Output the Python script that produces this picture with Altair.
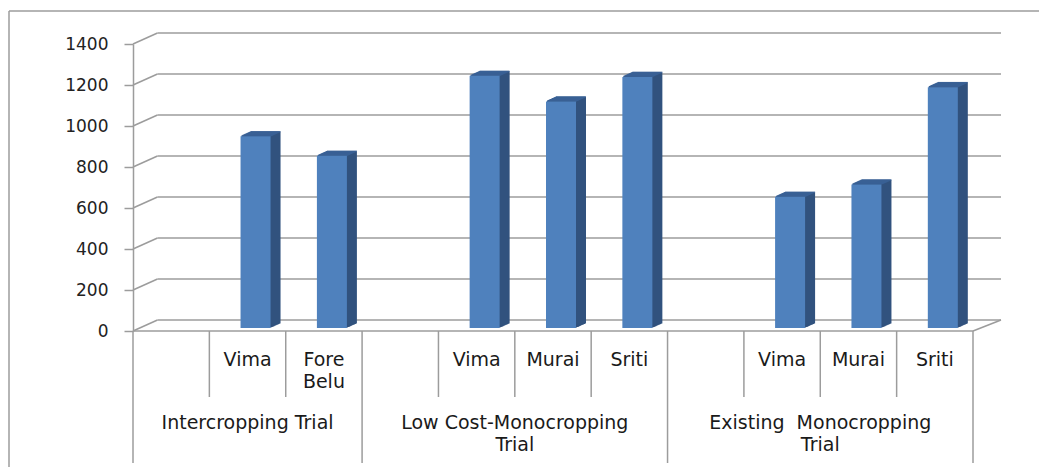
import altair as alt
import pandas as pd

# ---- data ----
groups = ["Intercropping Trial", "Low Cost-Monocropping\nTrial", "Existing\u00a0 Monocropping\nTrial"]
cultivars = [["Vima", "Fore\nBelu"], ["Vima", "Murai", "Sriti"], ["Vima", "Murai", "Sriti"]]
yields = [[935, 840], [1230, 1105, 1225], [640, 700, 1175]]
y_ticks = [0, 200, 400, 600, 800, 1000, 1200, 1400]

# ---- styles ----
GRID = "#9c9c9c"
FRONT = "#4f81bd"
SIDE = "#31527e"
TOP = "#3a6195"
FONT = "DejaVu Sans"
W, H = 840, 287
PAD = {"left": 133, "top": 44, "right": 66, "bottom": 136}
DX_L, DX_R, DY = 24.5, 28, -11   # back-wall depth offsets (pixels)
BAR_DX, BAR_DY, DEPTH = 8, -3, 10

# ---- build tables from the lists ----
bar_rows, grp_rows, grp_edges = [], [], []
slot = 0
for g, cs, vs in zip(groups, cultivars, yields):
    start = slot
    grp_edges.append(start)
    slot += 1  # empty leading slot in each group
    for c, v in zip(cs, vs):
        bar_rows.append({"slot": slot + 0.5, "edge": slot, "cultivar": c, "value": v})
        slot += 1
    grp_rows.append({"center": (start + slot) / 2, "group": g})
n_slots = slot
grp_edges.append(n_slots)

bars = pd.DataFrame(bar_rows)
grps = pd.DataFrame(grp_rows)
edges = pd.DataFrame({"edge": grp_edges})
ticks = pd.DataFrame({"v": y_ticks})

xs = alt.Scale(domain=[0, n_slots], nice=False, zero=False, padding=0)
ys = alt.Scale(domain=[0, 1400], nice=False, padding=0)
Y_AXIS = alt.Axis(values=y_ticks, grid=False, title=None, format="d")


def X(field=None, datum=None):
    if datum is not None:
        return alt.X(datum=datum, scale=xs, axis=None)
    return alt.X(field, type="quantitative", scale=xs, axis=None)


def Y(field=None, datum=None):
    if datum is not None:
        return alt.Y(datum=datum, scale=ys, axis=Y_AXIS)
    return alt.Y(field, type="quantitative", scale=ys, axis=Y_AXIS)


# back wall gridlines
back = alt.Chart(ticks).mark_rule(color=GRID, strokeWidth=1.5, xOffset=DX_L, x2Offset=DX_R,
                                  yOffset=DY).encode(
    x=X(datum=0), x2=alt.X2(datum=n_slots), y=Y("v"))

# left wall diagonals
diag = alt.Chart(ticks).mark_rule(color=GRID, strokeWidth=1.5, x2Offset=DX_L, y2Offset=DY).encode(
    x=X(datum=0), x2=alt.X2(datum=0), y=Y("v"), y2="v:Q")

# front floor edge and right floor diagonal
floor = alt.Chart(ticks.head(1)).mark_rule(color=GRID, strokeWidth=1.5).encode(
    x=X(datum=0), x2=alt.X2(datum=n_slots), y=Y(datum=0))
floor_r = alt.Chart(ticks.head(1)).mark_rule(color=GRID, strokeWidth=1.5, x2Offset=DX_R,
                                             y2Offset=DY).encode(
    x=X(datum=n_slots), x2=alt.X2(datum=n_slots), y=Y(datum=0), y2=alt.Y2(datum=0))

layers = [back, diag, floor, floor_r]

base_bar = alt.Chart(bars)
# extrusion (side) layers
for k in range(1, DEPTH + 1):
    off = BAR_DY - 0.45 * k
    layers.append(base_bar.mark_bar(color=SIDE, size=30, orient="vertical", xOffset=BAR_DX + k,
                                    yOffset=off, y2Offset=off).encode(
        x=X("slot"), y=Y("value"), y2=alt.Y2(datum=0)))
# top face strips
for k in range(1, DEPTH + 1):
    layers.append(base_bar.mark_bar(color=TOP, size=30, orient="vertical", xOffset=BAR_DX + k,
                                    yOffset=BAR_DY - 0.45 * k - 0.7,
                                    y2Offset=BAR_DY - 0.45 * (k - 1)).encode(
        x=X("slot"), y=Y("value"), y2="value:Q"))
# front face
layers.append(base_bar.mark_bar(color=FRONT, size=30, orient="vertical", xOffset=BAR_DX,
                                yOffset=BAR_DY, y2Offset=BAR_DY).encode(
    x=X("slot"), y=Y("value"), y2=alt.Y2(datum=0)))

# category table
sub_sep = alt.Chart(bars).mark_rule(color=GRID, strokeWidth=1.5).encode(
    x=X("edge"), y=alt.value(H), y2=alt.value(H + 66))
grp_sep = alt.Chart(edges).mark_rule(color=GRID, strokeWidth=1.5).encode(
    x=X("edge"), y=alt.value(H), y2=alt.value(H + 132))
sub_txt = alt.Chart(bars).mark_text(font=FONT, fontSize=19, baseline="alphabetic", lineBreak="\n",
                                    lineHeight=22, color="#1a1a1a").encode(
    x=X("slot"), y=alt.value(H + 35), text="cultivar:N")
grp_txt = alt.Chart(grps).mark_text(font=FONT, fontSize=19, baseline="alphabetic", lineBreak="\n",
                                    lineHeight=22, color="#1a1a1a").encode(
    x=X("center"), y=alt.value(H + 98), text="group:N")

# outer frame
frame_l = alt.Chart(ticks.head(1)).mark_rule(color=GRID, strokeWidth=1.5).encode(
    x=alt.value(-124), y=alt.value(-33), y2=alt.value(H + 140))
frame_t = alt.Chart(ticks.head(1)).mark_rule(color=GRID, strokeWidth=1.5).encode(
    x=alt.value(-124), x2=alt.value(W + 70), y=alt.value(-33))

layers += [sub_sep, grp_sep, sub_txt, grp_txt, frame_l, frame_t]

chart = alt.layer(*layers).properties(
    width=W, height=H, padding=PAD, autosize=alt.AutoSizeParams(type="none"),
    background="white",
).configure_view(stroke=None).configure_axisY(
    domainColor=GRID, domainWidth=1.5, tickColor=GRID, tickWidth=1.5, tickSize=9,
    labelFont=FONT, labelFontSize=17, labelColor="#222222", labelPadding=16,
)

chart.save("out.html", embed_options={"renderer": "svg", "actions": False})
